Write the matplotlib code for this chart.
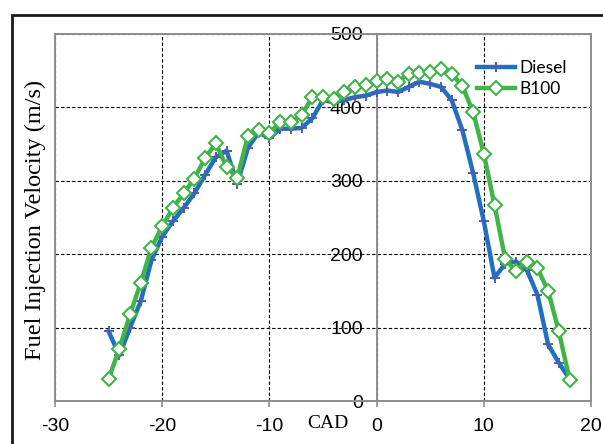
import numpy as np
import matplotlib.pyplot as plt
from matplotlib.patches import Rectangle

# crank angle (deg) and injection velocity (m/s)
cad = np.arange(-25, 19)
diesel = [95, 62, 100, 136, 192, 224, 245, 263, 283, 308,
          332, 341, 296, 345, 366, 358, 371, 371, 372, 385,
          410, 407, 410, 414, 416, 421, 423, 421, 428, 435,
          432, 428, 410, 369, 311, 245, 168, 187, 190, 179,
          145, 77, 52, 30]
b100 = [30, 71, 118, 161, 209, 238, 263, 283, 303, 331,
        351, 319, 304, 361, 369, 365, 380, 380, 389, 414,
        414, 411, 421, 428, 430, 436, 439, 435, 446, 447,
        448, 452, 446, 429, 394, 337, 267, 193, 177, 190,
        181, 150, 95, 29]

xticks = [-30, -20, -10, 0, 10, 20]
yticks = [0, 100, 200, 300, 400, 500]

plt.rcParams['font.family'] = ['Liberation Sans', 'DejaVu Sans']
plt.rcParams['axes.unicode_minus'] = False

fig = plt.figure(figsize=(6.03, 4.44), dpi=100)
ax = fig.add_axes([55/603, 43/444, 536/603, 367/444])

# black frame around the chart (cut off on the right / bottom)
fig.patches.append(Rectangle((12/603, -0.2), 1.2, 0.2 + (444-15)/444,
                             transform=fig.transFigure, fill=False,
                             edgecolor='#1a1a1a', linewidth=2.0))

gray = '#8c8c8c'
ax.plot(cad, diesel, color='#2070c0', lw=3.2, marker='+', ms=7.5, mew=1.4,
        mec='#4660b4', solid_joinstyle='round', label='Diesel', zorder=3)
ax.plot(cad, b100, color='#40b449', lw=3.2, marker='D', ms=7, mew=1.5,
        mec='#40b449', mfc='white', solid_joinstyle='round', label='B100', zorder=4)

ax.set_xlim(-30, 20)
ax.set_ylim(0, 500)
ax.set_xticks(xticks)
ax.set_yticks(yticks)
ax.grid(True, color='black', linestyle=(0, (3, 2)), linewidth=0.8, zorder=1)

ax.spines['left'].set_position(('data', 0))
for s in ['left', 'right', 'top', 'bottom']:
    ax.spines[s].set_color(gray)
    ax.spines[s].set_linewidth(1.4)
ax.axvline(-30, color=gray, lw=1.4, clip_on=False, zorder=2)

ax.tick_params(axis='x', length=4, width=1.2, color=gray, pad=8, labelsize=14)
ax.tick_params(axis='y', length=0, pad=10, labelsize=14)

ax.text(-4.5, -30, 'CAD', ha='center', va='center', fontsize=14,
        family='Liberation Serif')
fig.text(35/603, 1 - 220/444, 'Fuel Injection Velocity (m/s)', rotation=90,
         ha='center', va='center', fontsize=17.5, family='Liberation Serif')

leg = ax.legend(loc='upper left', bbox_to_anchor=(0.787, 0.93), frameon=False,
                borderpad=0, borderaxespad=0, handlelength=2.2,
                handletextpad=0.25, labelspacing=0.3,
                prop={'family': 'Lato', 'size': 12.5})

fig.savefig('out.png', dpi=100)
